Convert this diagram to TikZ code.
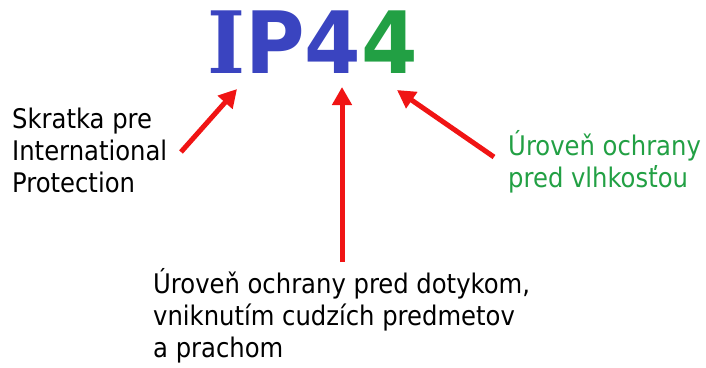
\documentclass[tikz,border=0pt]{standalone}
\usepackage{fontspec}
\setmainfont{DejaVu Sans Condensed}
\newfontfamily\ipsans{DejaVu Sans}[BoldFont={DejaVu Sans Bold}]
\newfontfamily\ipserif{DejaVu Serif}[BoldFont={DejaVu Serif Bold}]
\usetikzlibrary{arrows.meta}
\definecolor{ipblue}{RGB}{58,68,192}
\definecolor{ipgreen}{RGB}{34,160,68}
\definecolor{arrred}{RGB}{240,20,20}
\begin{document}
\begin{tikzpicture}[x=1pt,y=-1pt,
  arr/.style={draw=arrred, line width=5pt, -{Triangle[length=18pt,width=19pt]}},
  lbl/.style={inner sep=0pt, anchor=base west, align=left, font=\fontsize{27}{32}\selectfont}]
\useasboundingbox (0,0) rectangle (706,367);
\node[inner sep=0pt, anchor=base west, text=ipblue, font=\fontsize{86}{86}\selectfont\bfseries] (ip) at (207,73)
  {\scalebox{0.945}[1]{{\ipserif I}{\ipsans P4}{\ipsans\color{ipgreen}4}}};
\node[lbl] (left) at (12,192) {Skratka pre\\International\\Protection};
\node[lbl, text=ipgreen] (right) at (508,187) {Úroveň ochrany\\pred vlhkosťou};
\node[lbl] (bottom) at (153,357) {Úroveň ochrany pred dotykom,\\vniknutím cudzích predmetov\\a prachom};
\coordinate (t1) at (181,152); \coordinate (h1) at (237,89);
\coordinate (t2) at (342,262); \coordinate (h2) at (342,87);
\coordinate (t3) at (494,157); \coordinate (h3) at (397,90);
\draw[arr] (t1) -- (h1);
\draw[arr] (t2) -- (h2);
\draw[arr] (t3) -- (h3);
\end{tikzpicture}
\end{document}
